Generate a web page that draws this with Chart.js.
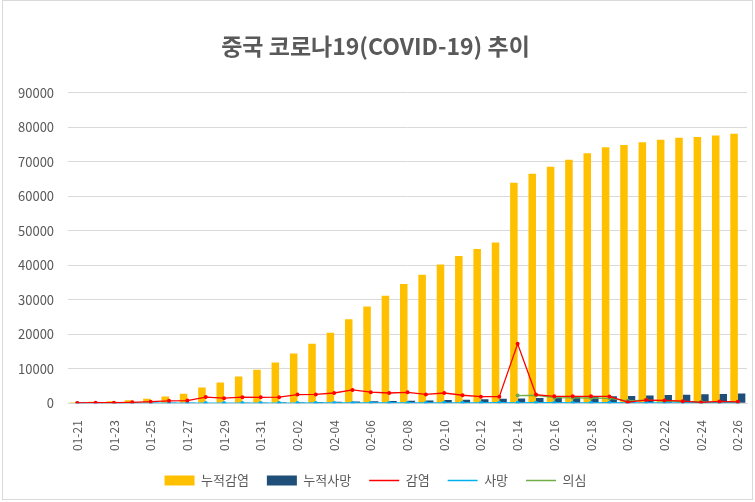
<!DOCTYPE html>
<html>
<head>
<meta charset="utf-8">
<script src="https://cdn.jsdelivr.net/npm/chart.js@4"></script>
<style>
    html, body { margin: 0; padding: 0; background: #fff; }
    #wrap { position: absolute; left: 2px; top: 0; width: 751px; height: 500px; border: 1px solid #d9d9d9; box-sizing: border-box; }
</style>
</head>
<body>
<div id="wrap"><canvas id="grafico"></canvas></div>
<script>
// 날짜
const datas = ['01-21','01-22','01-23','01-24','01-25','01-26','01-27','01-28','01-29','01-30','01-31',
    '02-01','02-02','02-03','02-04','02-05','02-06','02-07','02-08','02-09','02-10','02-11','02-12','02-13',
    '02-14','02-15','02-16','02-17','02-18','02-19','02-20','02-21','02-22','02-23','02-24','02-25','02-26'];

// 누적감염
const acumInfectados = [291, 440, 571, 830, 1287, 1975, 2744, 4515, 5974, 7711, 9692,
    11791, 14380, 17205, 20438, 24324, 28018, 31161, 34546, 37198, 40171, 42638, 44653, 46550,
    63851, 66492, 68500, 70548, 72436, 74185, 74800, 75600, 76350, 76900, 77150, 77550, 78100];

// 누적사망
const acumMortos = [6, 9, 17, 25, 41, 56, 80, 106, 132, 170, 213,
    259, 304, 361, 425, 490, 563, 636, 722, 811, 908, 1016, 1113, 1259,
    1380, 1523, 1665, 1770, 1868, 2004, 2118, 2236, 2345, 2442, 2592, 2663, 2800];

// 감염 (일별)
const novosInfectados = [77, 149, 131, 259, 444, 688, 769, 1771, 1459, 1737, 1700,
    1750, 2500, 2550, 2950, 3850, 3200, 2950, 3150, 2550, 2950, 2300, 1900, 1900,
    17200, 2500, 2000, 2000, 2000, 1950, 300, 900, 800, 600, 214, 500, 400];

// 사망 (일별)
const novosMortos = [3, 3, 8, 8, 16, 15, 24, 26, 26, 38, 43,
    46, 45, 57, 64, 65, 73, 73, 86, 89, 97, 108, 97, 146,
    121, 143, 142, 105, 98, 136, 114, 118, 109, 97, 150, 71, 52];

// 의심
const suspeitos = [null, null, null, null, null, null, null, null, null, null, null,
    null, null, null, null, null, null, null, null, null, null, null, null, null,
    2200, 2300, 1600, 1550, 1500, 1400, 700, 900, 600, 500, 400, 300, 300];

const eixoY = [0, 10000, 20000, 30000, 40000, 50000, 60000, 70000, 80000, 90000];

const cinza = '#595959';
const fonte = "'Noto Sans CJK KR', 'Noto Sans', sans-serif";

function linha(label, dados, cor) {
    return {
        type: 'line',
        label: label,
        data: dados,
        borderColor: cor,
        backgroundColor: cor,
        borderWidth: 1.3,
        pointRadius: 2,
        pointHoverRadius: 2,
        pointBorderWidth: 0,
        tension: 0,
        spanGaps: false
    };
}

const ctx = document.getElementById('grafico').getContext('2d');
new Chart(ctx, {
    type: 'bar',
    data: {
        labels: datas,
        datasets: [
            linha('감염', novosInfectados, '#FF0000'),
            linha('사망', novosMortos, '#00B0F0'),
            linha('의심', suspeitos, '#70AD47'),
            {
                label: '누적감염',
                data: acumInfectados,
                backgroundColor: '#FFC000',
                barPercentage: 1.0,
                categoryPercentage: 0.82,
                order: 5
            },
            {
                label: '누적사망',
                data: acumMortos,
                backgroundColor: '#1F4E79',
                barPercentage: 1.0,
                categoryPercentage: 0.82,
                order: 5
            }
        ]
    },
    options: {
        responsive: true,
        maintainAspectRatio: false,
        animation: false,
        layout: { padding: { left: 1, right: 5, top: 0, bottom: 2 } },
        plugins: {
            title: {
                display: true,
                text: '중국 코로나19(COVID-19) 추이',
                color: cinza,
                font: { family: fonte, size: 23, weight: 'bold' },
                padding: { top: 31, bottom: 33 }
            },
            legend: {
                position: 'bottom',
                labels: {
                    color: cinza,
                    font: { family: fonte, size: 13 },
                    usePointStyle: true,
                    pointStyleWidth: 30,
                    boxHeight: 10,
                    padding: 18,
                    sort: (a, b) => {
                        const ordem = ['누적감염', '누적사망', '감염', '사망', '의심'];
                        return ordem.indexOf(a.text) - ordem.indexOf(b.text);
                    },
                    generateLabels: chart => {
                        const itens = Chart.defaults.plugins.legend.labels.generateLabels(chart);
                        return itens.map(it => {
                            const ds = chart.data.datasets[it.datasetIndex];
                            if (ds.type === 'line') {
                                it.pointStyle = 'line';
                                it.lineWidth = 1.5;
                                it.strokeStyle = ds.borderColor;
                            } else {
                                it.pointStyle = 'rect';
                                it.lineWidth = 0;
                            }
                            return it;
                        });
                    }
                }
            },
            tooltip: { enabled: false }
        },
        scales: {
            x: {
                grid: { display: false },
                border: { color: '#d9d9d9' },
                afterFit: escala => {
                    escala.height -= 4;
                    escala.paddingRight = 0;
                },
                ticks: {
                    color: cinza,
                    font: { family: fonte, size: 12 },
                    autoSkip: false,
                    minRotation: 90,
                    maxRotation: 90,
                    padding: 9,
                    callback: function (val, i) {
                        return i % 2 === 0 ? datas[i] : '';
                    }
                }
            },
            y: {
                min: 0,
                max: eixoY[eixoY.length - 1],
                grid: { color: '#d9d9d9', drawTicks: false },
                border: { display: false },
                afterBuildTicks: escala => {
                    escala.ticks = eixoY.map(v => ({ value: v }));
                },
                ticks: {
                    color: cinza,
                    font: { family: fonte, size: 13 },
                    padding: 14,
                    callback: v => String(v)
                }
            }
        }
    }
});
</script>
</body>
</html>
